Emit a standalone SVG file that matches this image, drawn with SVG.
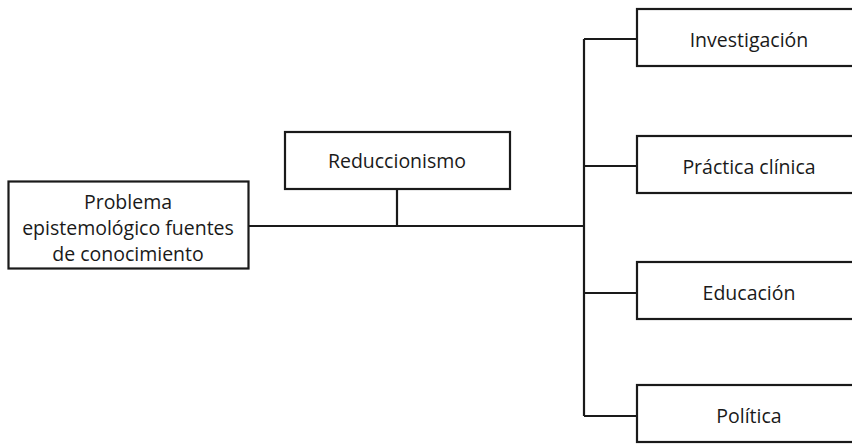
<svg xmlns="http://www.w3.org/2000/svg" width="852" height="444" viewBox="0 0 852 444">
<style>
.box{fill:#fff;stroke:#1a1a1a;stroke-width:2.2}
.t{font-family:"Open Sans","Noto Sans",sans-serif;font-size:19.5px;fill:#1a1a1a;text-anchor:middle;dominant-baseline:central}
.c{fill:none;stroke:#1a1a1a;stroke-width:2.2}
</style>
<rect width="852" height="444" fill="#fff"/>
<g id="connectors">
<path class="c" d="M248 226H584M397 189V226M584 39V416M584 39H637M584 166H637M584 293H637M584 416H637"/>
</g>
<g id="problema">
<rect class="box" x="8.5" y="181.5" width="240" height="87"/>
<text class="t" x="128" y="201">Problema</text>
<text class="t" x="128" y="227">epistemológico fuentes</text>
<text class="t" x="128" y="253">de conocimiento</text>
</g>
<g id="reduccionismo">
<rect class="box" x="285" y="132" width="225" height="57"/>
<text class="t" x="397" y="160">Reduccionismo</text>
</g>
<g id="investigacion">
<rect class="box" x="637" y="9" width="230" height="57"/>
<text class="t" x="749" y="39">Investigación</text>
</g>
<g id="practica">
<rect class="box" x="637" y="136" width="230" height="57"/>
<text class="t" x="749" y="166">Práctica clínica</text>
</g>
<g id="educacion">
<rect class="box" x="637" y="262" width="230" height="57"/>
<text class="t" x="749" y="292">Educación</text>
</g>
<g id="politica">
<rect class="box" x="637" y="385" width="230" height="57"/>
<text class="t" x="749" y="415">Política</text>
</g>
</svg>
